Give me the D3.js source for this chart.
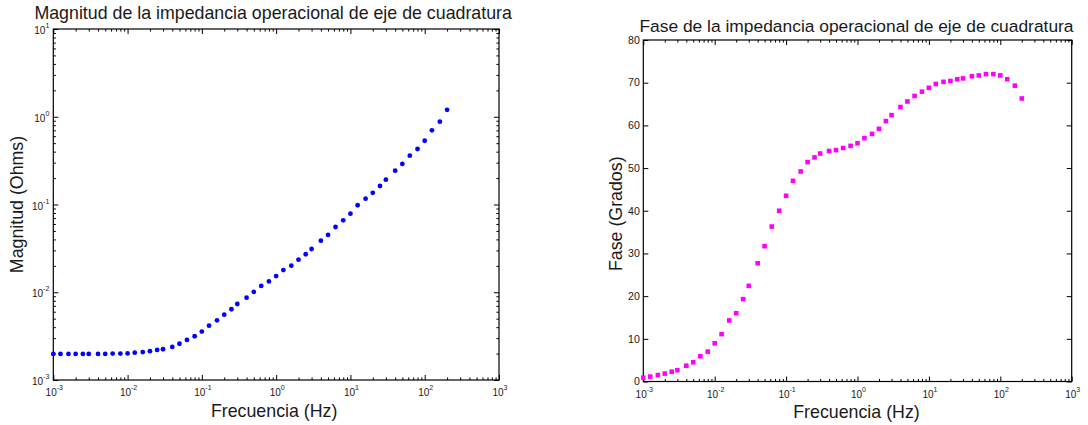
<!DOCTYPE html>
<html>
<head>
<meta charset="utf-8">
<script src="https://cdn.jsdelivr.net/npm/d3@7"></script>
<style>
  body { margin: 0; background: #fff; }
  svg { display: block; }
  text { font-family: "Liberation Sans", Arial, Helvetica, sans-serif; fill: #1a1a1a; }
</style>
</head>
<body>
<svg id="chart" width="1088" height="425"></svg>
<script>
// Test frequencies (Hz)
const frequencies = [
  0.001, 0.00125, 0.0016, 0.002, 0.0025, 0.003, 0.004, 0.005, 0.0063, 0.008,
  0.01, 0.0125, 0.016, 0.02, 0.025, 0.03, 0.04, 0.05, 0.063, 0.08,
  0.1, 0.125, 0.16, 0.2, 0.25, 0.3, 0.4, 0.5, 0.63, 0.8,
  1, 1.25, 1.6, 2, 2.5, 3, 4, 5, 6.3, 8,
  10, 12.5, 16, 20, 25, 30, 40, 50, 63, 80,
  100, 125, 160, 200
];

// |Zq(jw)| in ohms
const magnitudeOhms = [
  0.00198, 0.00198, 0.00198, 0.00198, 0.00198, 0.00198, 0.00198, 0.00198, 0.00200, 0.00200,
  0.00201, 0.00205, 0.00208, 0.00213, 0.00220, 0.00224, 0.00238, 0.00259, 0.00286, 0.00315,
  0.00356, 0.00416, 0.00479, 0.00555, 0.00640, 0.00735, 0.00867, 0.0101, 0.0118, 0.0133,
  0.0153, 0.0179, 0.0201, 0.0235, 0.0271, 0.0311, 0.0387, 0.0450, 0.0554, 0.0660,
  0.0786, 0.0980, 0.1165, 0.136, 0.1625, 0.192, 0.243, 0.290, 0.360, 0.429,
  0.533, 0.701, 0.879, 1.20
];

// Phase of Zq(jw) in degrees
const phaseDegrees = [
  0.9, 1.15, 1.5, 1.85, 2.3, 2.65, 3.7, 4.5, 5.9, 7.0,
  8.95, 11.1, 14.3, 16.0, 19.3, 22.4, 27.7, 31.7, 36.3, 40.0,
  43.5, 47.0, 49.2, 51.4, 52.5, 53.4, 54.0, 54.2, 54.7, 55.2,
  55.8, 57.0, 58.0, 59.2, 61.0, 62.4, 64.3, 65.6, 66.9, 67.9,
  68.8, 69.7, 70.2, 70.4, 70.8, 71.0, 71.5, 71.7, 72.0, 72.0,
  71.7, 70.8, 69.3, 66.3
];

const frequencyTicks = [1e-3, 1e-2, 1e-1, 1e0, 1e1, 1e2, 1e3];
const magnitudeTicks = [1e-3, 1e-2, 1e-1, 1e0, 1e1];
const phaseTicks = [0, 10, 20, 30, 40, 50, 60, 70, 80];

const titles = {
  magnitude: "Magnitud de la impedancia operacional de eje de cuadratura",
  phase: "Fase de la impedancia operacional de eje de cuadratura"
};
const xLabel = "Frecuencia (Hz)";
const yLabels = { magnitude: "Magnitud (Ohms)", phase: "Fase (Grados)" };

const svg = d3.select("#chart");
const MAJOR = 5, MINOR = 2.6;
const tickFont = 10, expFont = 7, labelFont = 17.8;

// minor log ticks: 2..9 times each power of ten inside the domain
function minorLogTicks(scale) {
  return scale.ticks().filter(v => {
    const e = Math.log10(v);
    return Math.abs(e - Math.round(e)) > 1e-9;
  });
}

// draws inward ticks on one side of the plot box
function drawTicks(g, axisFn, scale, values, len, transform) {
  const a = g.append("g")
    .attr("transform", transform)
    .call(axisFn(scale).tickValues(values).tickSizeInner(-len).tickSizeOuter(0).tickFormat(""));
  a.select(".domain").remove();
  a.selectAll("line").attr("stroke", "#000").attr("stroke-width", 1);
}

// "10" with a superscript exponent
function powerLabel(sel, v) {
  const e = Math.round(Math.log10(v));
  sel.append("tspan").text("10").style("font-size", tickFont + "px");
  sel.append("tspan").text(e).attr("dy", -6).style("font-size", expFont + "px");
}

function logXAxisLabels(g, x, y0) {
  g.selectAll(".xlab").data(frequencyTicks).join("text")
    .attr("class", "xlab")
    .attr("x", d => x(d) + 1)
    .attr("y", y0 + 16)
    .attr("text-anchor", "middle")
    .each(function (d) { powerLabel(d3.select(this), d); });
}

function frame(g, x0, x1, y0, y1) {
  g.append("rect")
    .attr("x", x0).attr("y", y1)
    .attr("width", x1 - x0).attr("height", y0 - y1)
    .attr("fill", "none").attr("stroke", "#000").attr("stroke-width", 1.2);
}

/* ---------- magnitude panel ---------- */
{
  const L = 53.3, R = 499, B = 380, T = 29;
  const x = d3.scaleLog().domain([1e-3, 1e3]).range([L, R]);
  const y = d3.scaleLog().domain([1e-3, 1e1]).range([B, T]);
  const g = svg.append("g");

  const xMinor = minorLogTicks(x), yMinor = minorLogTicks(y);
  drawTicks(g, d3.axisBottom, x, frequencyTicks, MAJOR, `translate(0,${B})`);
  drawTicks(g, d3.axisBottom, x, xMinor, MINOR, `translate(0,${B})`);
  drawTicks(g, d3.axisTop, x, frequencyTicks, MAJOR, `translate(0,${T})`);
  drawTicks(g, d3.axisTop, x, xMinor, MINOR, `translate(0,${T})`);
  drawTicks(g, d3.axisLeft, y, magnitudeTicks, MAJOR, `translate(${L},0)`);
  drawTicks(g, d3.axisLeft, y, yMinor, MINOR, `translate(${L},0)`);
  drawTicks(g, d3.axisRight, y, magnitudeTicks, MAJOR, `translate(${R},0)`);
  drawTicks(g, d3.axisRight, y, yMinor, MINOR, `translate(${R},0)`);
  frame(g, L, R, B, T);

  logXAxisLabels(g, x, B);
  g.selectAll(".ylab").data(magnitudeTicks).join("text")
    .attr("class", "ylab")
    .attr("x", L - 4)
    .attr("y", d => y(d) + 5)
    .attr("text-anchor", "end")
    .each(function (d) { powerLabel(d3.select(this), d); });

  g.selectAll("circle").data(frequencies).join("circle")
    .attr("cx", d => x(d))
    .attr("cy", (d, i) => y(magnitudeOhms[i]))
    .attr("r", 2.4)
    .attr("fill", "#0000ff");

  g.append("text").attr("x", (L + R) / 2 - 3).attr("y", 19)
    .attr("text-anchor", "middle").style("font-size", labelFont + "px").text(titles.magnitude);
  g.append("text").attr("x", (L + R) / 2 - 2).attr("y", 416.5)
    .attr("text-anchor", "middle").style("font-size", labelFont + "px").text(xLabel);
  g.append("text").attr("transform", `translate(22.5,${(T + B) / 2}) rotate(-90)`)
    .attr("text-anchor", "middle").style("font-size", labelFont + "px").text(yLabels.magnitude);
}

/* ---------- phase panel ---------- */
{
  const L = 643.3, R = 1071.7, B = 381.5, T = 40;
  const x = d3.scaleLog().domain([1e-3, 1e3]).range([L, R]);
  const y = d3.scaleLinear().domain([0, 80]).range([B, T]);
  const g = svg.append("g");

  const xMinor = minorLogTicks(x);
  drawTicks(g, d3.axisBottom, x, frequencyTicks, MAJOR, `translate(0,${B})`);
  drawTicks(g, d3.axisBottom, x, xMinor, MINOR, `translate(0,${B})`);
  drawTicks(g, d3.axisTop, x, frequencyTicks, MAJOR, `translate(0,${T})`);
  drawTicks(g, d3.axisTop, x, xMinor, MINOR, `translate(0,${T})`);
  drawTicks(g, d3.axisLeft, y, phaseTicks, MAJOR, `translate(${L},0)`);
  drawTicks(g, d3.axisRight, y, phaseTicks, MAJOR, `translate(${R},0)`);
  frame(g, L, R, B, T);

  logXAxisLabels(g, x, B);
  g.selectAll(".ylab").data(phaseTicks).join("text")
    .attr("class", "ylab")
    .attr("x", L - 3.5)
    .attr("y", d => y(d) + 3.8)
    .attr("text-anchor", "end")
    .style("font-size", "10.6px")
    .text(d => d);

  const s = 4.6;
  g.selectAll("rect.pt").data(frequencies).join("rect")
    .attr("class", "pt")
    .attr("x", d => x(d) - s / 2)
    .attr("y", (d, i) => y(phaseDegrees[i]) - s / 2)
    .attr("width", s).attr("height", s)
    .attr("fill", "#ff00ff");

  g.append("text").attr("x", (L + R) / 2 - 1).attr("y", 31.5)
    .attr("text-anchor", "middle").style("font-size", "17.4px").text(titles.phase);
  g.append("text").attr("x", (L + R) / 2 - 1).attr("y", 417.5)
    .attr("text-anchor", "middle").style("font-size", labelFont + "px").text(xLabel);
  g.append("text").attr("transform", `translate(622,${(T + B) / 2 + 3}) rotate(-90)`)
    .attr("text-anchor", "middle").style("font-size", labelFont + "px").text(yLabels.phase);
}
</script>
</body>
</html>
